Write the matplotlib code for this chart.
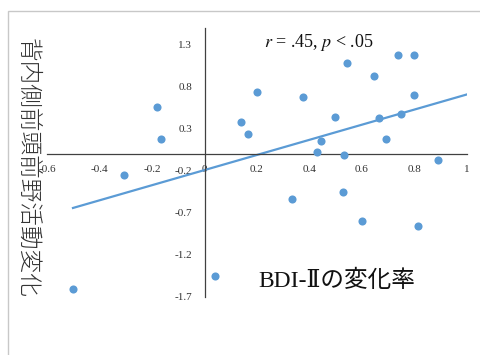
import numpy as np
import matplotlib
matplotlib.use('Agg')
import matplotlib.pyplot as plt
from matplotlib.patches import Rectangle

# BDI-II change rate vs. dmPFC activity change
bdi_change = [-0.501, -0.307, -0.181, -0.166, 0.040, 0.139, 0.166, 0.200, 0.333,
              0.375, 0.428, 0.444, 0.497, 0.527, 0.531, 0.543, 0.600, 0.646,
              0.665, 0.691, 0.737, 0.749, 0.798, 0.798, 0.813, 0.889]
dmpfc_change = [-1.61, -0.25, 0.56, 0.18, -1.45, 0.38, 0.24, 0.74, -0.54,
                0.68, 0.03, 0.15, 0.44, -0.45, -0.01, 1.08, -0.80, 0.93,
                0.43, 0.18, 1.18, 0.48, 1.18, 0.70, -0.85, -0.07]
# trendline (Excel linear fit)
trend_slope = 0.90
trend_icpt = -0.19
trend_x = [-0.501, 1.0]

x_ticks = [-0.6, -0.4, -0.2, 0, 0.2, 0.4, 0.6, 0.8, 1]
x_ticklabels = ['-0.6', '-0.4', '-0.2', '0', '0.2', '0.4', '0.6', '0.8', '1']
y_ticks = [1.3, 0.8, 0.3, -0.2, -0.7, -1.2, -1.7]
y_ticklabels = ['1.3', '0.8', '0.3', '-0.2', '-0.7', '-1.2', '-1.7']

blue = '#5B9BD5'
W, H = 480, 355
fig = plt.figure(figsize=(W / 100, H / 100), dpi=100)

# light frame around the chart area
fig.patches.append(Rectangle((8 / W, -0.1), 1.2, 1 - 11 / H + 0.1,
                             transform=fig.transFigure, fill=False,
                             edgecolor='#c8c8c8', linewidth=1))

ax = fig.add_axes([47 / W, (H - 297) / H, 420 / W, 269 / H])
ax.set_xlim(-0.6, 1.0)
ax.set_ylim(-1.7, 1.5)
ax.patch.set_alpha(0)

ax.scatter(bdi_change, dmpfc_change, s=34, color=blue, linewidths=0, zorder=3)

xs = np.array(trend_x)
ax.plot(xs, trend_slope * xs + trend_icpt, color=blue, linewidth=1.6, zorder=2)

for s in ['top', 'right']:
    ax.spines[s].set_visible(False)
ax.spines['left'].set_position(('data', 0))
ax.spines['bottom'].set_position(('data', 0))
for s in ['left', 'bottom']:
    ax.spines[s].set_color('#404040')
    ax.spines[s].set_linewidth(0.9)

tick_font = {'family': 'Liberation Serif', 'size': 8}
ax.set_xticks(x_ticks)
ax.set_xticklabels(x_ticklabels, fontdict=tick_font, color='#333333')
ax.set_yticks(y_ticks)
ax.set_yticklabels(y_ticklabels, fontdict=tick_font, color='#333333')
ax.tick_params(axis='both', length=0)
ax.tick_params(axis='x', pad=8)
ax.tick_params(axis='y', pad=9)

plt.rcParams['mathtext.fontset'] = 'stix'
ax.text(0.435, 1.33, r'$r$ = .45, $p$ < .05', fontsize=13,
        family='Liberation Serif', color='#111111', ha='center', va='center')

fig.text(27 / W, 1 - 168 / H, '背内側前頭前野活動変化', rotation=270,
         ha='center', va='center', fontsize=17,
         family=['Noto Sans CJK JP', 'DejaVu Sans'], fontweight='light',
         color='#333333')
fig.text(258 / W, 1 - 281 / H, 'BDI-Ⅱの変化率', ha='left', va='center',
         fontsize=17, family=['Liberation Serif', 'DejaVu Serif', 'Noto Sans CJK JP'],
         color='#111111')

fig.savefig('out.png', dpi=100)
